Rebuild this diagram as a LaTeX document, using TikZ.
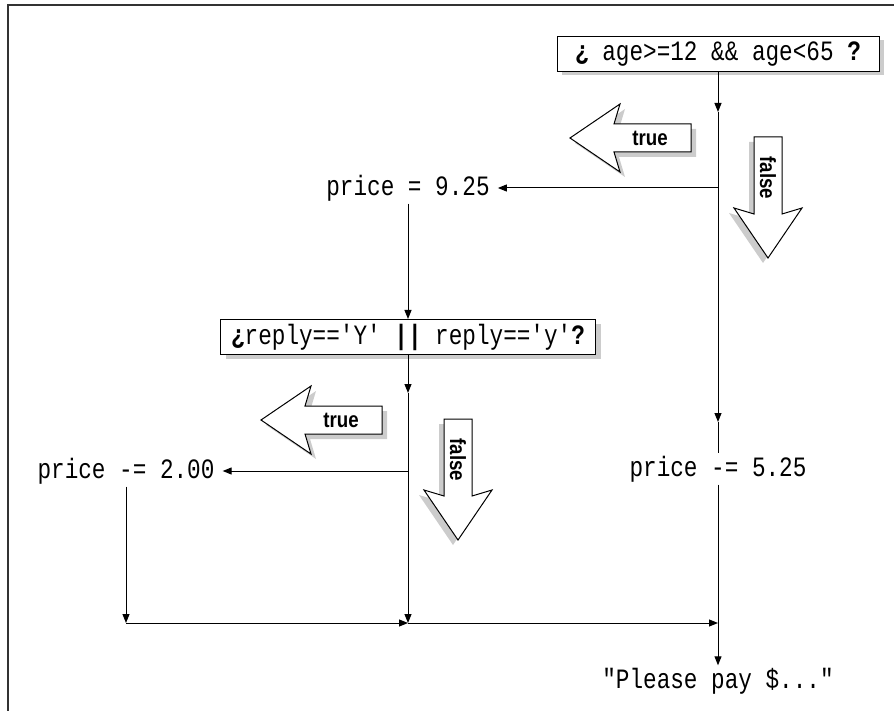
\documentclass[tikz,border=0pt]{standalone}
\usepackage{fontspec}
\setmonofont[FakeStretch=0.81]{Liberation Mono}
\newfontfamily\tagfont[FakeStretch=0.85]{Liberation Sans}
\usetikzlibrary{arrows.meta,shadows}

\begin{document}
\begin{tikzpicture}[
    x=1pt, y=-1pt,
    font=\ttfamily\fontsize{28}{32}\selectfont,
    % Box styles
    test/.style={draw, line width=1pt, fill=white, inner sep=0pt, minimum height=35pt,
        drop shadow={shadow xshift=5pt, shadow yshift=-4pt, fill=black!20, opacity=1}},
    stmt/.style={inner xsep=8pt, inner ysep=0pt, minimum height=31pt},
    % Line styles
    flow/.style={line width=1pt, -{Triangle[length=9pt,width=7pt]}},
    wire/.style={line width=1pt},
    hollow/.style={draw, line width=1pt, fill=white},
    hollowshadow/.style={fill=black!20},
    tag/.style={font=\tagfont\bfseries\fontsize{22}{26}\selectfont, inner sep=0pt},
    frame/.style={line width=1.6pt, draw=black!80},
]
    \useasboundingbox (0,0) rectangle (894,711);
    \draw[frame] (8,711) -- (8,5) -- (894,5);

    % Tests
    \node[test, minimum width=322pt] (age) at (718,54) {\textbf{¿} age>=12 \&\& age<65 \textbf{?}};
    \node[test, minimum width=375pt] (reply) at (408,337) {\textbf{¿}reply=='Y' \textbf{||} reply=='y'\textbf{?}};

    % Statements
    \node[stmt] (full) at (408,188) {price = 9.25};
    \node[stmt] (senior) at (718,469) {price -= 5.25};
    \node[stmt] (member) at (126,471) {price -= 2.00};
    \node[stmt] (pay) at (718,681) {"Please pay \$..."};

    % Junctions
    \coordinate (ageMid) at (718,112);
    \coordinate (ageFork) at (718,188);
    \coordinate (seniorMid) at (718,422);
    \coordinate (replyMid) at (408,393);
    \coordinate (replyFork) at (408,471);
    \coordinate (joinLeft) at (126,623);
    \coordinate (joinMid) at (408,623);
    \coordinate (joinRight) at (718,623);

    % Connections
    \draw[flow] (age.south) -- (ageMid);
    \draw[wire] (ageMid) -- (ageFork);
    \draw[flow] (ageFork) -- (full.east);
    \draw[flow] (ageFork) -- (seniorMid);
    \draw[wire] (seniorMid) -- (senior.north);
    \draw[flow] (full.south) -- (reply.north);
    \draw[flow] (reply.south) -- (replyMid);
    \draw[wire] (replyMid) -- (replyFork);
    \draw[flow] (replyFork) -- (member.east);
    \draw[flow] (replyFork) -- (joinMid);
    \draw[flow] (member.south) -- (joinLeft);
    \draw[flow] (joinLeft) -- (joinMid);
    \draw[flow] (joinMid) -- (joinRight);
    \draw[flow] (senior.south) -- (pay.north);

    % Branch arrows
    \foreach \n/\cx/\cy/\dir/\turn/\sx/\lab in {1/650/138/180/0/5/true, 2/768/178/-90/-90/-5/false,
                                              3/341/420/180/0/5/true, 4/458/460/-90/-90/-5/false} {
        \fill[hollowshadow, shift={({\cx+\sx},{\cy+5})}, rotate=\dir]
            (-41,-14) -- (36,-14) -- (30,-34) -- (80,0) -- (30,34) -- (36,14) -- (-41,14) -- cycle;
        \draw[hollow, shift={(\cx,\cy)}, rotate=\dir]
            (-41,-14) -- (36,-14) -- (30,-34) -- (80,0) -- (30,34) -- (36,14) -- (-41,14) -- cycle;
        \node[tag, rotate=\turn] (tag\n) at (\cx,\cy) {\lab};
    }

\end{tikzpicture}
\end{document}
